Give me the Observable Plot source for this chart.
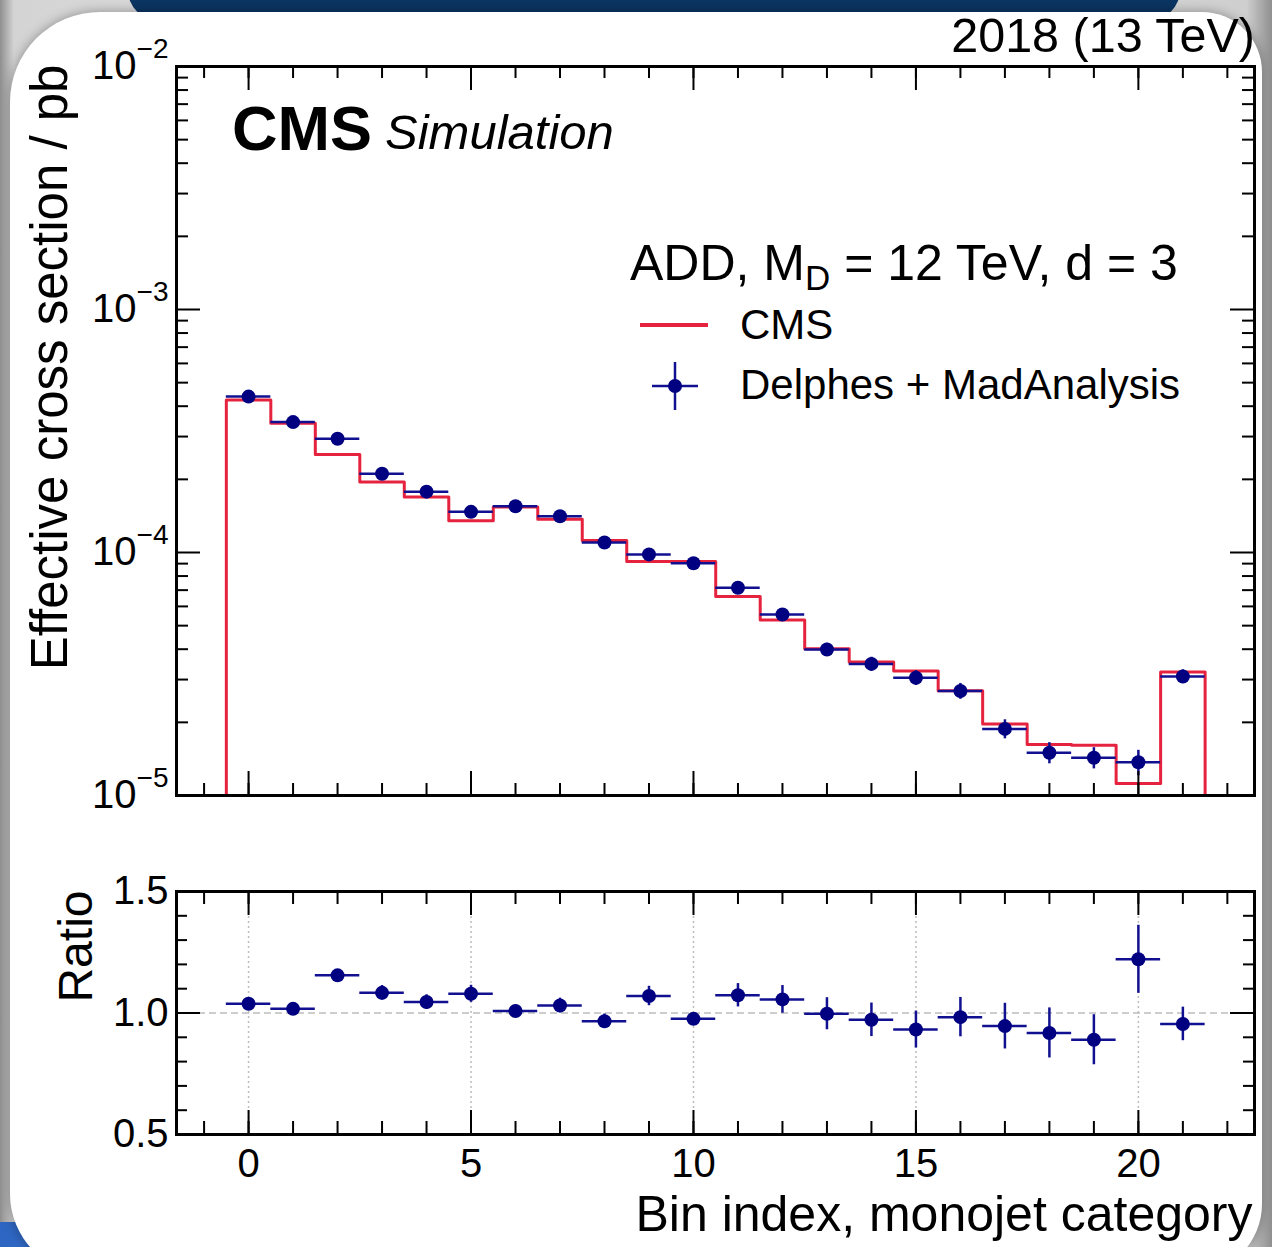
<!DOCTYPE html>
<html><head><meta charset="utf-8">
<script src="https://cdn.jsdelivr.net/npm/d3@7"></script>
<script src="https://cdn.jsdelivr.net/npm/@observablehq/plot@0.6"></script>
<style>
body{margin:0;background:#c4c4c4;}
#page{position:relative;width:1272px;height:1247px;overflow:hidden;background:linear-gradient(90deg,#8f8f8f 0,#d4d4d4 14px,#e4e4e4 40%,#e4e4e4 60%,#cfcfcf 98%,#8f8f8f 100%);font-family:"Liberation Sans",Arial,sans-serif;}
#band{position:absolute;left:128px;top:-40px;width:1052px;height:60px;background:#0b3562;border-radius:0 0 30px 30px;}
#bluepatch{position:absolute;left:-20px;top:1222px;width:120px;height:60px;background:linear-gradient(90deg,#2a62c0,#3b74cc);}
#card{position:absolute;left:10px;top:12px;width:1252px;height:1262px;background:#fff;border-radius:90px 60px 70px 80px;box-shadow:0 0 12px rgba(0,0,0,0.35);}
.abs{position:absolute;white-space:nowrap;line-height:1;color:#000;}
#upper,#lower{position:absolute;left:0;}
#upper{top:0;} #lower{top:840px;}
</style></head>
<body><div id="page">
<div id="band"></div>
<div id="bluepatch"></div>
<div id="card"></div>
<div id="upper"></div>
<div id="lower"></div>
<div class="abs" style="right:17px;top:11px;font-size:48.5px;">2018 (13 TeV)</div>
<div class="abs" style="left:232px;top:97px;font-size:63px;font-weight:bold;">CMS</div>
<div class="abs" style="left:385px;top:108px;font-size:49px;font-style:italic;">Simulation</div>
<div class="abs" style="left:630px;top:238px;font-size:50px;">ADD, M<span style="font-size:35px;position:relative;top:10px;">D</span> = 12 TeV, d = 3</div>
<svg class="abs" style="left:630px;top:300px;" width="100" height="120">
  <line x1="10" y1="25" x2="78" y2="25" stroke="#e6233f" stroke-width="4"/>
  <line x1="22" y1="86" x2="68" y2="86" stroke="#101090" stroke-width="2.5"/>
  <line x1="45" y1="62" x2="45" y2="110" stroke="#101090" stroke-width="2.5"/>
  <circle cx="45" cy="86" r="7" fill="#000080"/>
</svg>
<div class="abs" style="left:740px;top:304px;font-size:42px;">CMS</div>
<div class="abs" style="left:740px;top:364px;font-size:42px;">Delphes + MadAnalysis</div>
</div>
<script>
// ---- data ----
const bins = d3.range(22);
const cmsXsec = [4.24e-4, 3.40e-4, 2.53e-4, 1.95e-4, 1.69e-4, 1.35e-4, 1.54e-4, 1.37e-4, 1.12e-4, 9.19e-5, 9.19e-5,
                 6.59e-5, 5.28e-5, 4.02e-5, 3.54e-5, 3.25e-5, 2.70e-5, 1.97e-5, 1.62e-5, 1.61e-5, 1.12e-5, 3.22e-5];
const delphesXsec = [4.38e-4, 3.44e-4, 2.94e-4, 2.11e-4, 1.78e-4, 1.47e-4, 1.55e-4, 1.41e-4, 1.10e-4, 9.82e-5, 9.03e-5,
                     7.16e-5, 5.56e-5, 3.99e-5, 3.48e-5, 3.05e-5, 2.69e-5, 1.88e-5, 1.50e-5, 1.43e-5, 1.37e-5, 3.09e-5];
const delphesRelErr = [0.015, 0.015, 0.02, 0.025, 0.025, 0.03, 0.025, 0.03, 0.03, 0.035, 0.02,
                       0.045, 0.05, 0.06, 0.065, 0.07, 0.075, 0.09, 0.1, 0.1, 0.12, 0.065];
const ratio = [1.038, 1.017, 1.155, 1.083, 1.045, 1.079, 1.008, 1.031, 0.966, 1.070, 0.976,
               1.073, 1.056, 0.997, 0.972, 0.932, 0.983, 0.946, 0.918, 0.890, 1.221, 0.955];
const ratioErr = [0.015, 0.015, 0.02, 0.03, 0.03, 0.035, 0.025, 0.03, 0.03, 0.04, 0.02,
                  0.048, 0.057, 0.066, 0.069, 0.076, 0.081, 0.094, 0.103, 0.103, 0.14, 0.069];
const xMajorTicks = [0, 5, 10, 15, 20];
const xMinorTicks = d3.range(-1, 23);
const yMajorTicks = [1e-5, 1e-4, 1e-3, 1e-2];
const yMinorTicks = [1e-5, 1e-4, 1e-3].flatMap(d => [2,3,4,5,6,7,8,9].map(k => k * d));
const ratioMajorTicks = [0.5, 1.0, 1.5];
const ratioMinorTicks = [0.6, 0.7, 0.8, 0.9, 1.1, 1.2, 1.3, 1.4];

// ---- tables ----
const delphes = bins.map(i => ({bin: i, v: delphesXsec[i], e: delphesRelErr[i]}));
const ratioRows = bins.map(i => ({bin: i, r: ratio[i], e: ratioErr[i]}));
const histPts = [{x: -0.5, y: 1e-5}];
bins.forEach(i => histPts.push({x: i - 0.5, y: cmsXsec[i]}, {x: i + 0.5, y: cmsXsec[i]}));
histPts.push({x: 21.5, y: 1e-5});

const RED = "#e6233f", BAR = "#101090", DOT = "#000080";
const W = 1272, ML = 176, MR = 18;
const FW = W - ML - MR;
const FONT = "Liberation Sans, Arial, Helvetica, sans-serif";
const xDomain = [-1.62, 22.61];

function innerTicks(FH, xMinLen, xMajLen, yMin, yMaj, yMinLen, yMajLen) {
  const s = {stroke: "black", strokeWidth: 2};
  return [
    Plot.tickX(xMinorTicks, {x: d => d, insetTop: FH - xMinLen, ...s}),
    Plot.tickX(xMinorTicks, {x: d => d, insetBottom: FH - xMinLen, ...s}),
    Plot.tickX(xMajorTicks, {x: d => d, insetTop: FH - xMajLen, ...s}),
    Plot.tickX(xMajorTicks, {x: d => d, insetBottom: FH - xMajLen, ...s}),
    Plot.tickY(yMin, {y: d => d, insetRight: FW - yMinLen, ...s}),
    Plot.tickY(yMin, {y: d => d, insetLeft: FW - yMinLen, ...s}),
    Plot.tickY(yMaj, {y: d => d, insetRight: FW - yMajLen, ...s}),
    Plot.tickY(yMaj, {y: d => d, insetLeft: FW - yMajLen, ...s})
  ];
}

// ---- upper panel ----
const upper = Plot.plot({
  width: W, height: 840,
  marginTop: 66, marginBottom: 45, marginLeft: ML, marginRight: MR,
  style: {fontFamily: FONT, background: "transparent", overflow: "visible"},
  x: {domain: xDomain, axis: null},
  y: {type: "log", domain: [1e-5, 1e-2]},
  marks: [
    Plot.line(histPts, {x: "x", y: "y", stroke: RED, strokeWidth: 3}),
    Plot.ruleY(delphes, {x1: d => d.bin - 0.5, x2: d => d.bin + 0.5, y: "v", stroke: BAR, strokeWidth: 2.5}),
    Plot.ruleX(delphes, {x: "bin", y1: d => d.v * (1 - d.e), y2: d => d.v * (1 + d.e), stroke: BAR, strokeWidth: 2.5}),
    Plot.dot(delphes, {x: "bin", y: "v", r: 7, fill: DOT}),
    ...innerTicks(729, 12, 24, yMinorTicks, yMajorTicks, 12, 24),
    Plot.frame({stroke: "black", strokeWidth: 3}),
    Plot.axisY({ticks: yMajorTicks, tickSize: 0, tickPadding: 8, fontSize: 40, label: null,
                tickFormat: d => "10^" + Math.round(Math.log10(d))}),
    Plot.text(["Effective cross section / pb"], {text: d => d, frameAnchor: "top-left", rotate: -90,
                textAnchor: "end", lineAnchor: "middle", dx: -126, dy: -2, fontSize: 51})
  ]
});
d3.select(upper).selectAll('g[aria-label="y-axis tick label"] text').each(function () {
  const t = this.textContent;
  const e = t.split("^")[1].replace("-", "\u2212");
  const sel = d3.select(this);
  sel.text("10");
  sel.append("tspan").attr("dy", "-0.75em").attr("font-size", "28").text(e);
});
document.getElementById("upper").appendChild(upper);

// ---- ratio panel ----
const lower = Plot.plot({
  width: W, height: 407,
  marginTop: 51, marginBottom: 113, marginLeft: ML, marginRight: MR,
  style: {fontFamily: FONT, background: "transparent", overflow: "visible"},
  x: {domain: xDomain},
  y: {domain: [0.5, 1.5]},
  marks: [
    Plot.ruleX(xMajorTicks, {x: d => d, stroke: "#bdbdbd", strokeWidth: 1.5, strokeDasharray: "2,3"}),
    Plot.ruleY([1], {y: d => d, stroke: "#bdbdbd", strokeWidth: 1.5, strokeDasharray: "7,4"}),
    Plot.ruleY(ratioRows, {x1: d => d.bin - 0.5, x2: d => d.bin + 0.5, y: "r", stroke: BAR, strokeWidth: 2.5}),
    Plot.ruleX(ratioRows, {x: "bin", y1: d => d.r - d.e, y2: d => d.r + d.e, stroke: BAR, strokeWidth: 2.5}),
    Plot.dot(ratioRows, {x: "bin", y: "r", r: 7, fill: DOT}),
    ...innerTicks(243, 13, 24, ratioMinorTicks, ratioMajorTicks, 11, 24),
    Plot.frame({stroke: "black", strokeWidth: 3}),
    Plot.axisY({ticks: ratioMajorTicks, tickSize: 0, tickPadding: 8, fontSize: 40, label: null,
                tickFormat: d3.format(".1f")}),
    Plot.axisX({ticks: xMajorTicks, tickSize: 0, tickPadding: 14, fontSize: 40, label: null}),
    Plot.text(["Ratio"], {text: d => d, frameAnchor: "top-left", rotate: -90,
                textAnchor: "end", lineAnchor: "middle", dx: -100, dy: -1, fontSize: 48}),
    Plot.text(["Bin index, monojet category"], {text: d => d, frameAnchor: "bottom-right",
                textAnchor: "end", lineAnchor: "middle", dx: -2, dy: 80, fontSize: 50})
  ]
});
document.getElementById("lower").appendChild(lower);
</script>
</body></html>
